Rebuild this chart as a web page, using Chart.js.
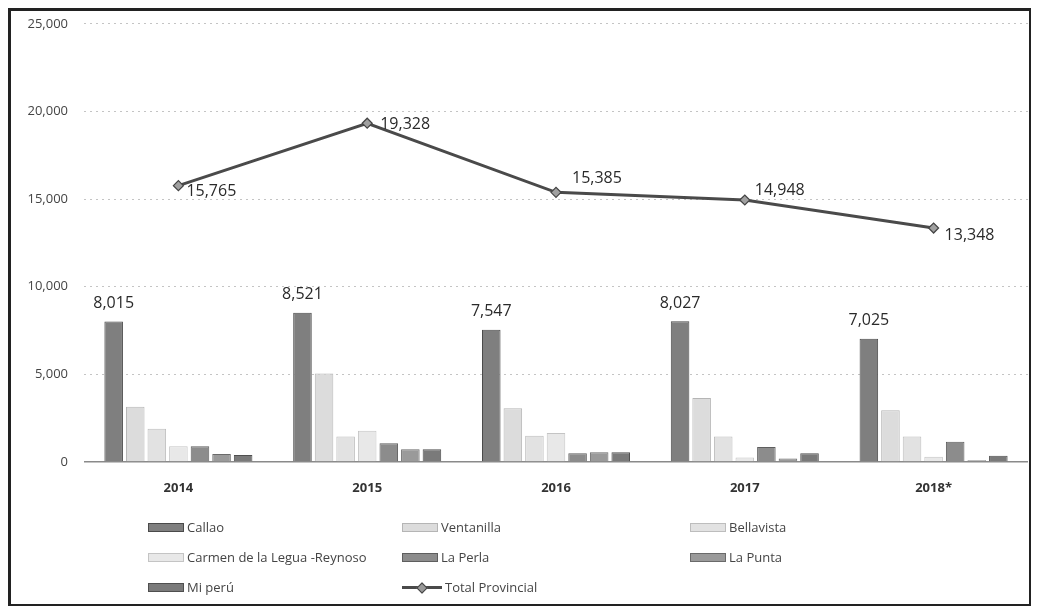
<!DOCTYPE html>
<html>
<head>
<meta charset="utf-8">
<script src="https://cdn.jsdelivr.net/npm/chart.js@4.4.1/dist/chart.umd.min.js"></script>
<style>
  html, body { margin: 0; padding: 0; background: #fff; }
  #wrap { position: relative; width: 1038px; height: 611px; overflow: hidden; }
  #c { position: absolute; left: 0; top: 0; }
  #frame { position: absolute; left: 8px; top: 8px; width: 1018px; height: 593px; border: 3px solid #222; border-right-width: 2px; border-bottom-width: 2px; pointer-events: none; }
  #legend { position: absolute; left: 148px; top: 512px; display: grid; grid-template-columns: 254px 288px 240px; grid-auto-rows: 30px; font-family: "Open Sans", sans-serif; font-size: 13px; color: #444; }
  .li { display: flex; align-items: center; white-space: nowrap; }
  .sw { display: inline-block; width: 36px; height: 9px; margin-right: 3px; box-sizing: border-box; }
  .lw { position: relative; display: inline-block; width: 40px; height: 9px; margin-right: 3px; }
  .lw::before { content: ""; position: absolute; left: 0; right: 0; top: 3px; height: 3px; background: #4a4a4a; }
  .lw::after { content: ""; position: absolute; left: 16px; top: 1px; width: 6px; height: 6px; background: #999; border: 1px solid #444; transform: rotate(45deg); }
</style>
</head>
<body>
<div id="wrap">
  <canvas id="c" width="1038" height="611"></canvas>
  <div id="frame"></div>
  <div id="legend"></div>
</div>
<script>
const categories = ['2014', '2015', '2016', '2017', '2018*'];
const seriesNames = ['Callao', 'Ventanilla', 'Bellavista', 'Carmen de la Legua -Reynoso', 'La Perla', 'La Punta', 'Mi perú'];
const callao     = [8015, 8521, 7547, 8027, 7025];
const ventanilla = [3150, 5050, 3070, 3650, 2950];
const bellavista = [1900, 1450, 1500, 1450, 1450];
const carmen     = [900, 1780, 1650, 250, 300];
const laPerla    = [900, 1070, 500, 850, 1150];
const laPunta    = [450, 730, 560, 200, 100];
const miPeru     = [400, 730, 560, 500, 350];
const totalName  = 'Total Provincial';
const totalProvincial = [15765, 19328, 15385, 14948, 13348];
const yTicks = [0, 5000, 10000, 15000, 20000, 25000];

const barValues = [callao, ventanilla, bellavista, carmen, laPerla, laPunta, miPeru];
const barFills   = ['#7f7f7f', '#dcdcdc', '#e2e2e2', '#e8e8e8', '#8c8c8c', '#9a9a9a', '#7a7a7a'];
const barBorders = ['#4a4a4a', '#b5b5b5', '#bdbdbd', '#c4c4c4', '#5e5e5e', '#6a6a6a', '#4f4f4f'];

const fmt = v => v.toLocaleString('en-US');

const datasets = barValues.map((vals, i) => ({
  type: 'bar',
  label: seriesNames[i],
  data: vals,
  backgroundColor: barFills[i],
  borderColor: barBorders[i],
  borderWidth: 1,
  categoryPercentage: 0.8,
  barPercentage: 0.86,
  order: 1
}));
datasets.push({
  type: 'line',
  label: totalName,
  data: totalProvincial,
  borderColor: '#4a4a4a',
  borderWidth: 3,
  pointStyle: 'rectRot',
  pointRadius: 5,
  pointBackgroundColor: '#a0a0a0',
  pointBorderColor: '#444',
  pointBorderWidth: 1.2,
  tension: 0,
  order: 0
});

const labelPlugin = {
  id: 'valueLabels',
  afterDatasetsDraw(chart, args, opts) {
    const ctx = chart.ctx;
    ctx.save();
    ctx.fillStyle = '#2a2a2a';
    ctx.font = '16px "Open Sans", sans-serif';
    const barMeta = chart.getDatasetMeta(0);
    ctx.textAlign = 'center';
    ctx.textBaseline = 'bottom';
    barMeta.data.forEach((el, i) => {
      ctx.fillText(fmt(chart.data.datasets[0].data[i]), el.x, el.y - 10);
    });
    const li = chart.data.datasets.length - 1;
    const lineMeta = chart.getDatasetMeta(li);
    ctx.textAlign = 'left';
    ctx.textBaseline = 'middle';
    lineMeta.data.forEach((el, i) => {
      const off = opts.lineOffsets[i];
      ctx.fillText(fmt(chart.data.datasets[li].data[i]), el.x + off[0], el.y + off[1]);
    });
    ctx.restore();
  }
};

const chart = new Chart(document.getElementById('c'), {
  data: { labels: categories, datasets },
  plugins: [labelPlugin],
  options: {
    responsive: false,
    animation: false,
    layout: { padding: { left: 12, right: 10, top: 16, bottom: 114 } },
    plugins: {
      legend: { display: false },
      tooltip: { enabled: false },
      valueLabels: { lineOffsets: [[8, 6], [13, 1], [16, -14], [10, -10], [11, 7]] }
    },
    scales: {
      x: {
        grid: { display: false },
        border: { display: false },
        ticks: { color: '#333', font: { family: 'Open Sans', size: 13, weight: 'bold' }, padding: 10 },
        afterFit(s) { s.height = 35; }
      },
      y: {
        min: 0, max: 25000,
        afterBuildTicks(s) { s.ticks = yTicks.map(v => ({ value: v })); },
        border: { display: false, dash: c => (c.tick && c.tick.value === 0) ? [] : [2, 4] },
        grid: {
          color: c => c.tick.value === 0 ? '#8a8a8a' : '#c4c4c4',
          lineWidth: c => c.tick.value === 0 ? 1.5 : 1,
          drawTicks: false
        },
        ticks: { color: '#444', font: { family: 'Open Sans', size: 13 }, padding: 16, callback: v => fmt(v) },
        afterFit(s) { s.width = 72; }
      }
    }
  }
});

const legend = document.getElementById('legend');
chart.data.datasets.forEach(ds => {
  const item = document.createElement('div');
  item.className = 'li';
  const sw = document.createElement('span');
  if (ds.type === 'line') {
    sw.className = 'lw';
  } else {
    sw.className = 'sw';
    sw.style.background = ds.backgroundColor;
    sw.style.border = '1px solid ' + ds.borderColor;
  }
  item.appendChild(sw);
  item.appendChild(document.createTextNode(ds.label));
  legend.appendChild(item);
});
</script>
</body>
</html>
